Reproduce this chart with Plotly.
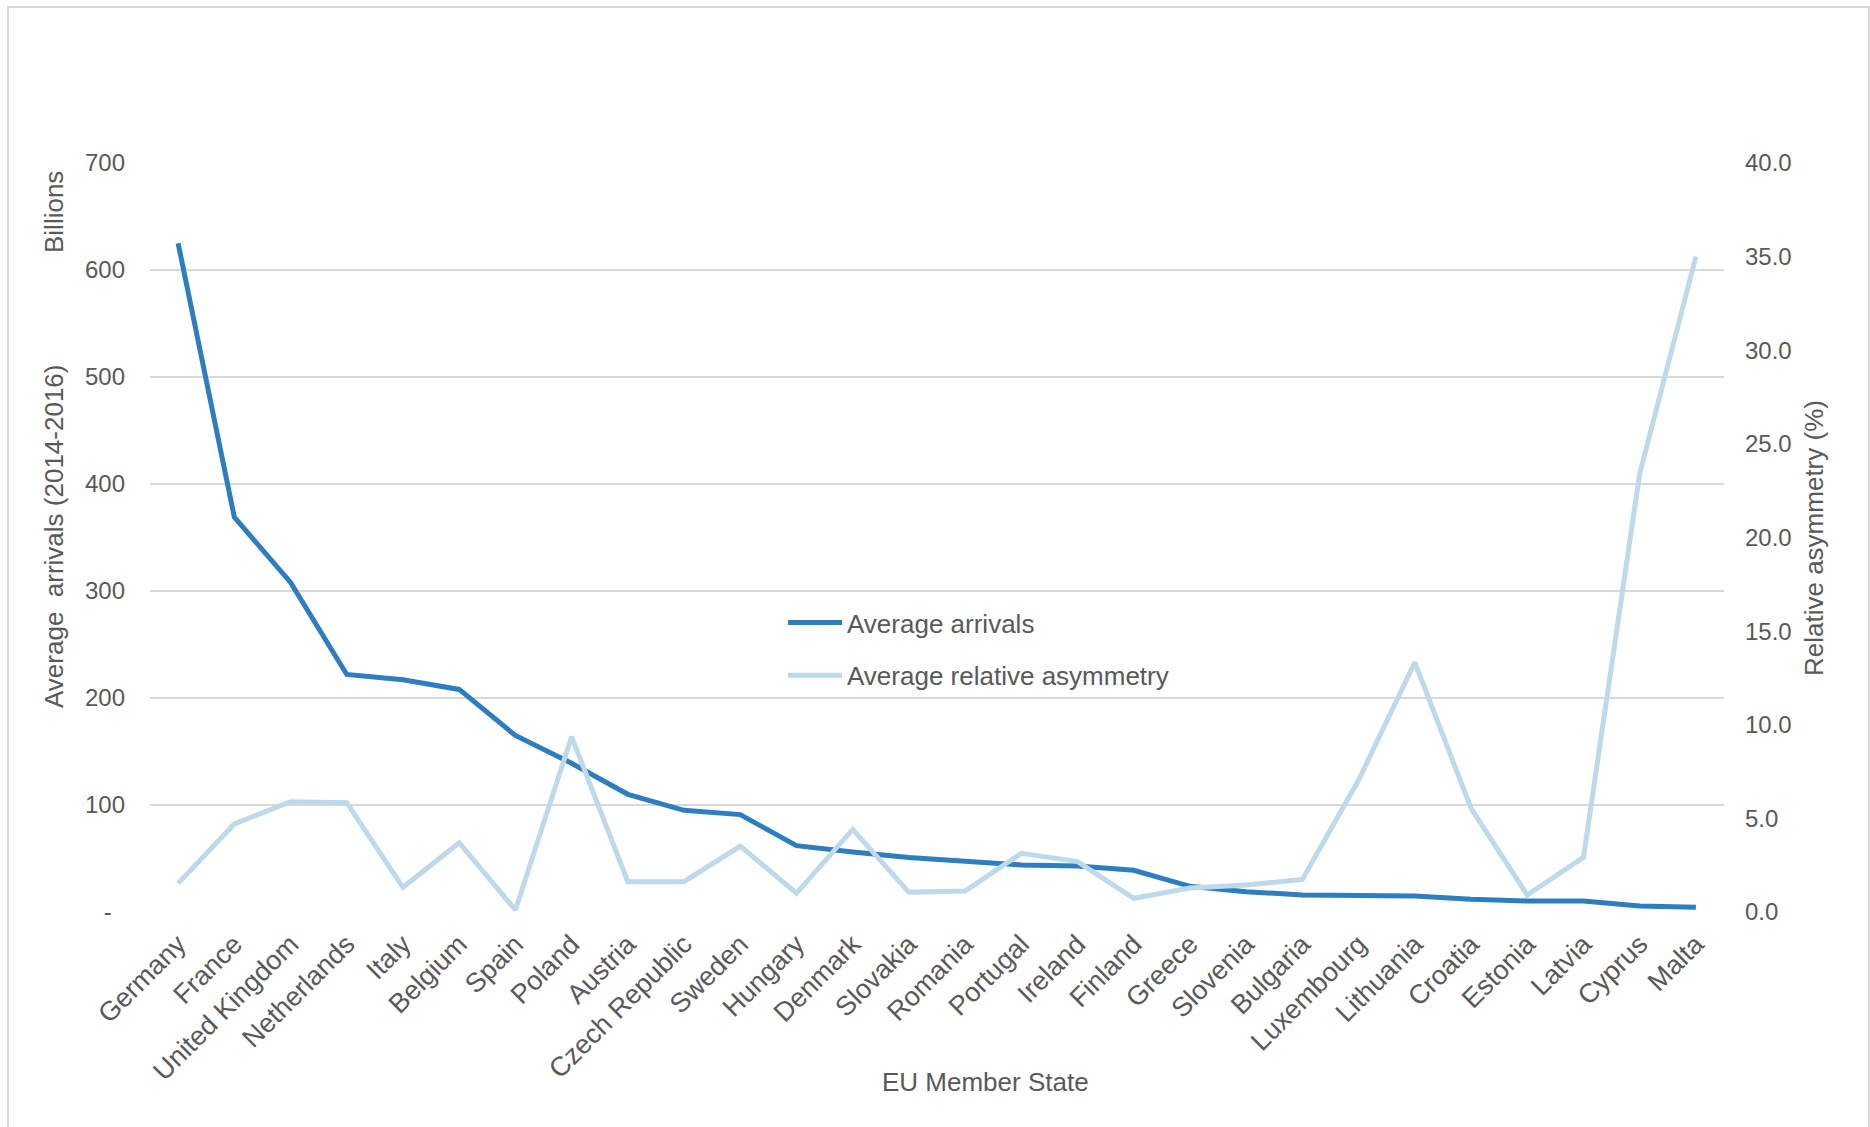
import plotly.graph_objects as go

countries = ["Germany", "France", "United Kingdom", "Netherlands", "Italy", "Belgium", "Spain",
             "Poland", "Austria", "Czech Republic", "Sweden", "Hungary", "Denmark", "Slovakia",
             "Romania", "Portugal", "Ireland", "Finland", "Greece", "Slovenia", "Bulgaria",
             "Luxembourg", "Lithuania", "Croatia", "Estonia", "Latvia", "Cyprus", "Malta"]

avg_arrivals = [625, 369, 308, 222, 217, 208, 165, 139, 110, 95, 91, 62, 56, 51,
                47.5, 44, 43, 39, 24, 19, 16, 16, 15, 12, 10.3, 10.3, 5.6, 4.4]

avg_asymmetry = [1.53, 4.70, 5.89, 5.84, 1.32, 3.70, 0.11, 9.36, 1.62, 1.62, 3.52, 1.0,
                 4.41, 1.05, 1.12, 3.13, 2.69, 0.73, 1.28, 1.44, 1.74, 7.05, 13.33, 5.54,
                 0.91, 2.92, 23.4, 35.0]

left_ticks = [0, 100, 200, 300, 400, 500, 600, 700]
left_ticktext = ["-\u00a0\u00a0", "100", "200", "300", "400", "500", "600", "700"]
right_ticks = [0, 5, 10, 15, 20, 25, 30, 35, 40]
right_ticktext = ["0.0", "5.0", "10.0", "15.0", "20.0", "25.0", "30.0", "35.0", "40.0"]

FONT = "Liberation Sans, Arial, sans-serif"
GRAY = "#595959"
GRID = "#D9D9D9"

fig = go.Figure()
fig.add_trace(go.Scatter(x=countries, y=avg_arrivals, mode="lines", name="Average arrivals",
                         line=dict(color="#2E7EBF", width=5), yaxis="y", legendgroup="a"))
fig.add_trace(go.Scatter(x=countries, y=avg_asymmetry, mode="lines", name="Average relative asymmetry",
                         line=dict(color="#BDD9EA", width=5), yaxis="y2", legendgroup="b"))

W, H = 1870, 1127
L, R, T, B = 150, 146, 163, 215
pw = W - L - R
ph = H - T - B

def px(x):
    return (x - L) / pw

def py(y):
    return (H - B - y) / ph

def label(text, x, y, angle=0):
    return dict(text=text, x=px(x), y=py(y), xref="paper", yref="paper",
                xanchor="center", yanchor="middle", textangle=angle,
                showarrow=False, font=dict(size=26, color=GRAY))

fig.update_layout(
    width=W, height=H,
    margin=dict(l=L, r=R, t=T, b=B),
    paper_bgcolor="white", plot_bgcolor="white",
    font=dict(family=FONT, color=GRAY, size=24),
    showlegend=True,
    legend=dict(x=px(783), y=py(599), xanchor="left", yanchor="top",
                bgcolor="rgba(0,0,0,0)", font=dict(size=26, color=GRAY),
                traceorder="grouped", tracegroupgap=16, itemwidth=54),
    xaxis=dict(type="category", tickangle=-45, showgrid=False, showline=False, ticks="",
               tickfont=dict(size=27, color=GRAY), ticklabelstandoff=10,
               range=[-0.5, len(countries) - 0.5]),
    yaxis=dict(range=[0, 700], tickvals=left_ticks, ticktext=left_ticktext,
               showgrid=True, gridcolor=GRID, gridwidth=1.5, zeroline=False, showline=False,
               ticks="", tickfont=dict(size=24, color=GRAY), ticklabelstandoff=24),
    yaxis2=dict(range=[0, 40], tickvals=right_ticks, ticktext=right_ticktext, overlaying="y",
                side="right", showgrid=False, zeroline=False, showline=False, ticks="",
                tickfont=dict(size=24, color=GRAY), ticklabelstandoff=20),
    shapes=[dict(type="rect", xref="paper", yref="paper", x0=px(8), x1=px(1869),
                 y0=py(1135), y1=py(7), line=dict(color="#D9D9D9", width=2),
                 fillcolor="rgba(0,0,0,0)", layer="below")],
    annotations=[
        label("Billions", 54, 212, -90),
        label("Average  arrivals (2014-2016)", 54, 537, -90),
        label("Relative asymmetry (%)", 1814, 538, -90),
        label("EU Member State", 985, 1082),
    ],
)

fig.write_html("out.html")
